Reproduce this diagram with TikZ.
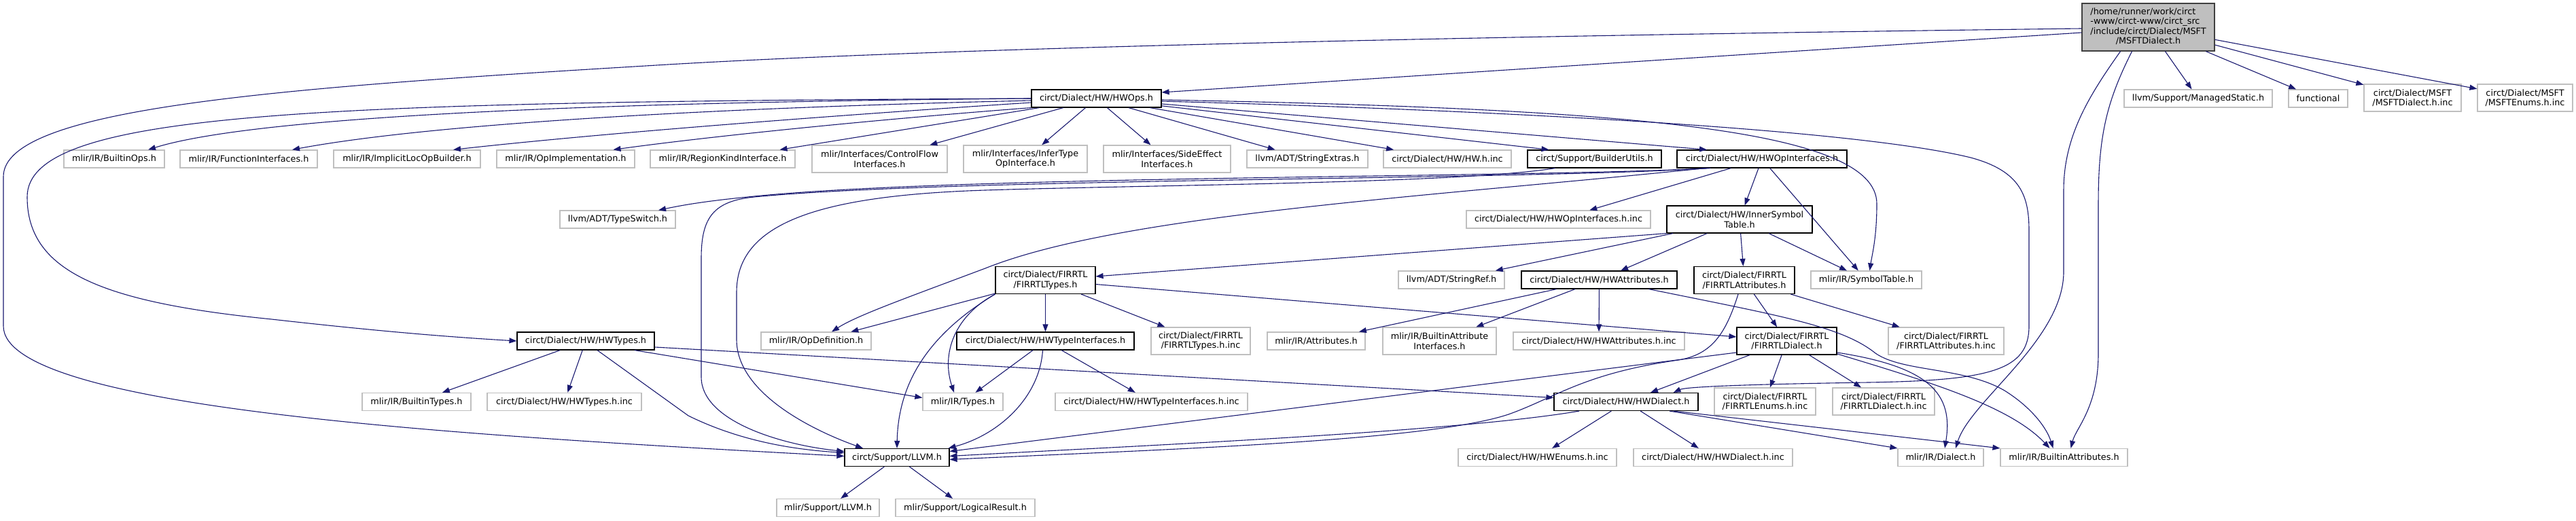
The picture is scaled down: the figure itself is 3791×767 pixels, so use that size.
\documentclass[tikz,border=0pt]{standalone}
\usepackage{fontspec}
\setmainfont{DejaVu Sans}
\usetikzlibrary{arrows.meta}
\definecolor{edgeblue}{RGB}{25,25,112}
\definecolor{leafgray}{RGB}{191,191,191}
\begin{document}
\begin{tikzpicture}[x=1pt,y=-1pt,
  font=\fontsize{12.8}{14.5}\selectfont,
  leaf/.style={draw=leafgray,line width=1.2pt,fill=white,inner sep=0pt,align=center},
  doc/.style={leaf,draw=black},
  root/.style={leaf,draw=black!75,fill=leafgray},
  h1/.style={minimum height=26},
  h2/.style={minimum height=40},
  edge/.style={draw=edgeblue,line width=1.1pt,-{Triangle[length=11pt,width=8pt]}}]
\useasboundingbox (0,0) rectangle (3791,767);
\node[root,minimum width=195,minimum height=70] (main) at (3161.5,40) {\begin{tabular}{@{}l@{}}/home/runner/work/circt\\-www/circt-www/circt\_src\\/include/circt/Dialect/MSFT\\\multicolumn{1}{@{}c@{}}{/MSFTDialect.h}\end{tabular}};
\node[doc,h1,minimum width=191] (hwops) at (1613.5,145) {circt/Dialect/HW/HWOps.h};
\node[leaf,h1,minimum width=218] (managedstatic) at (3235,145) {llvm/Support/ManagedStatic.h};
\node[leaf,h1,minimum width=87] (functional) at (3411.5,145) {functional};
\node[leaf,h2,minimum width=143] (msftdialectinc) at (3550.5,144) {circt/Dialect/MSFT\\/MSFTDialect.h.inc};
\node[leaf,h2,minimum width=140] (msftenumsinc) at (3716,144) {circt/Dialect/MSFT\\/MSFTEnums.h.inc};
\node[leaf,h1,minimum width=148] (builtinops) at (168,234) {mlir/IR/BuiltinOps.h};
\node[leaf,h1,minimum width=202] (funcifaces) at (366,234) {mlir/IR/FunctionInterfaces.h};
\node[leaf,h1,minimum width=216] (implicitloc) at (599,234) {mlir/IR/ImplicitLocOpBuilder.h};
\node[leaf,h1,minimum width=203] (opimpl) at (832.5,234) {mlir/IR/OpImplementation.h};
\node[leaf,h1,minimum width=213] (regionkind) at (1063.5,234) {mlir/IR/RegionKindInterface.h};
\node[leaf,h2,minimum width=199] (controlflow) at (1294.5,234) {mlir/Interfaces/ControlFlow\\Interfaces.h};
\node[leaf,h2,minimum width=182] (infertype) at (1509,234) {mlir/Interfaces/InferType\\OpInterface.h};
\node[leaf,h2,minimum width=187] (sideeffect) at (1717.5,234) {mlir/Interfaces/SideEffect\\Interfaces.h};
\node[leaf,h1,minimum width=178] (stringextras) at (1924,234) {llvm/ADT/StringExtras.h};
\node[leaf,h1,minimum width=188] (hwinc) at (2130,234) {circt/Dialect/HW/HW.h.inc};
\node[doc,h1,minimum width=197] (builderutils) at (2346.5,234) {circt/Support/BuilderUtils.h};
\node[doc,h1,minimum width=250] (hwopifaces) at (2593,234) {circt/Dialect/HW/HWOpInterfaces.h};
\node[leaf,h1,minimum width=170] (typeswitch) at (909,323) {llvm/ADT/TypeSwitch.h};
\node[leaf,h1,minimum width=271] (hwopifacesinc) at (2293.5,323) {circt/Dialect/HW/HWOpInterfaces.h.inc};
\node[doc,h2,minimum width=214] (innersym) at (2560,323) {circt/Dialect/HW/InnerSymbol\\Table.h};
\node[doc,h2,minimum width=147] (firrtltypes) at (1538.5,412.5) {circt/Dialect/FIRRTL\\/FIRRTLTypes.h};
\node[leaf,h1,minimum width=156] (stringref) at (2136,412) {llvm/ADT/StringRef.h};
\node[doc,h1,minimum width=229] (hwattrs) at (2353.5,412) {circt/Dialect/HW/HWAttributes.h};
\node[doc,h2,minimum width=148] (firrtlattrs) at (2567,412.5) {circt/Dialect/FIRRTL\\/FIRRTLAttributes.h};
\node[leaf,h1,minimum width=163] (symboltable) at (2746.5,412) {mlir/IR/SymbolTable.h};
\node[doc,h1,minimum width=202] (hwtypes) at (862,502) {circt/Dialect/HW/HWTypes.h};
\node[leaf,h1,minimum width=162] (opdef) at (1201,502) {mlir/IR/OpDefinition.h};
\node[doc,h1,minimum width=261] (hwtypeifaces) at (1538.5,502) {circt/Dialect/HW/HWTypeInterfaces.h};
\node[leaf,h2,minimum width=146] (firrtltypesinc) at (1767,502) {circt/Dialect/FIRRTL\\/FIRRTLTypes.h.inc};
\node[leaf,h1,minimum width=144] (attributes) at (1937,502) {mlir/IR/Attributes.h};
\node[leaf,h2,minimum width=167] (builtinattrifaces) at (2118.5,502) {mlir/IR/BuiltinAttribute\\Interfaces.h};
\node[leaf,h1,minimum width=252] (hwattrsinc) at (2353,502) {circt/Dialect/HW/HWAttributes.h.inc};
\node[doc,h2,minimum width=147] (firrtldialect) at (2629.5,502) {circt/Dialect/FIRRTL\\/FIRRTLDialect.h};
\node[leaf,h2,minimum width=170] (firrtlattrsinc) at (2864,502) {circt/Dialect/FIRRTL\\/FIRRTLAttributes.h.inc};
\node[leaf,h1,minimum width=160] (builtintypes) at (613,591.5) {mlir/IR/BuiltinTypes.h};
\node[leaf,h1,minimum width=227] (hwtypesinc) at (830.5,591.5) {circt/Dialect/HW/HWTypes.h.inc};
\node[leaf,h1,minimum width=118] (types) at (1417,591.5) {mlir/IR/Types.h};
\node[leaf,h1,minimum width=283] (hwtypeifacesinc) at (1694.5,591.5) {circt/Dialect/HW/HWTypeInterfaces.h.inc};
\node[doc,h1,minimum width=212] (hwdialect) at (2393,591.5) {circt/Dialect/HW/HWDialect.h};
\node[leaf,h2,minimum width=149] (firrtlenumsinc) at (2597.5,591) {circt/Dialect/FIRRTL\\/FIRRTLEnums.h.inc};
\node[leaf,h2,minimum width=150] (firrtldialectinc) at (2772,591) {circt/Dialect/FIRRTL\\/FIRRTLDialect.h.inc};
\node[doc,h1,minimum width=154] (llvm) at (1320,673.5) {circt/Support/LLVM.h};
\node[leaf,h1,minimum width=233] (hwenumsinc) at (2262.5,673.5) {circt/Dialect/HW/HWEnums.h.inc};
\node[leaf,h1,minimum width=234] (hwdialectinc) at (2521,673.5) {circt/Dialect/HW/HWDialect.h.inc};
\node[leaf,h1,minimum width=126] (dialect) at (2856,673.5) {mlir/IR/Dialect.h};
\node[leaf,h1,minimum width=187] (builtinattrs) at (3037.5,673.5) {mlir/IR/BuiltinAttributes.h};
\node[leaf,h1,minimum width=151] (mlirllvm) at (1218.5,747.5) {mlir/Support/LLVM.h};
\node[leaf,h1,minimum width=205] (logicalresult) at (1420.5,747.5) {mlir/Support/LogicalResult.h};
\draw[edge] ([yshift=-2pt]main.west) .. controls (2000,55) and (1300,75) .. (950,97) .. controls (400,130) and (5,160) .. (5,260) -- (5,480) .. controls (5,600) and (650,640) .. ([yshift=2pt]llvm.west);
\draw[edge] ([yshift=-8pt]main.west) -- ([yshift=9pt]hwops.east);
\draw[edge] (main) -- (managedstatic);
\draw[edge] (main) -- (functional);
\draw[edge] (main) -- (msftdialectinc);
\draw[edge] (main) -- (msftenumsinc);
\draw[edge] (main.221) .. controls (3075,140) and (3037,200) .. (3037,280) -- (3037,400) .. controls (3037,500) and (2900,590) .. ([xshift=22pt]dialect.north);
\draw[edge] (main.236) .. controls (3100,150) and (3088,200) .. (3088,300) -- (3088,520) .. controls (3088,600) and (3055,630) .. ([xshift=10pt]builtinattrs.north);
\draw[edge] (hwops.west) .. controls (450,150) and (40,165) .. (40,290) .. controls (40,400) and (150,445) .. (400,470) .. controls (560,488) and (660,496) .. (hwtypes.west);
\draw[edge] (hwops.west) .. controls (900,150) and (380,170) .. ([xshift=50pt]builtinops.north);
\draw[edge] ([yshift=-3pt]hwops.west) .. controls (1000,160) and (620,185) .. ([xshift=64pt]funcifaces.north);
\draw[edge] ([yshift=-6pt]hwops.west) .. controls (1150,175) and (850,200) .. ([xshift=68pt]implicitloc.north);
\draw[edge] (hwops.south west) .. controls (1300,175) and (1050,200) .. ([xshift=70pt]opimpl.north);
\draw[edge] (hwops) -- (regionkind);
\draw[edge] (hwops) -- (controlflow);
\draw[edge] (hwops) -- (infertype);
\draw[edge] (hwops) -- (sideeffect);
\draw[edge] (hwops) -- (stringextras);
\draw[edge] (hwops) -- (hwinc);
\draw[edge] (hwops) -- ([xshift=-67pt]builderutils.north);
\draw[edge] (hwops) -- ([xshift=-81pt]hwopifaces.north);
\draw[edge] ([yshift=-2pt]hwops.east) .. controls (2400,160) and (2762,190) .. (2762,300) .. controls (2762,350) and (2755,375) .. ([xshift=5pt]symboltable.north);
\draw[edge] ([yshift=-4pt]hwops.east) .. controls (2300,165) and (2750,195) .. (2900,232) .. controls (2975,252) and (2986,290) .. (2986,340) -- (2986,480) .. controls (2986,545) and (2930,560) .. (2750,563) .. controls (2550,566) and (2480,570) .. ([xshift=-37pt]hwdialect.north east);
\draw[edge] ([xshift=50pt]hwopifaces.south west) .. controls (2250,262) and (1400,258) .. (1100,290) .. controls (1030,297) and (1000,303) .. ([xshift=60pt]typeswitch.north);
\draw[edge] ([xshift=46pt]hwopifaces.south west) .. controls (2250,265) and (1400,262) .. (1110,290) .. controls (1050,296) and (1032,320) .. (1032,380) -- (1032,555) .. controls (1032,620) and (1150,655) .. ([yshift=9pt]llvm.west);
\draw[edge] ([xshift=-58pt]builderutils.south) .. controls (2150,270) and (1700,272) .. (1450,280) .. controls (1200,288) and (1084,330) .. (1084,430) -- (1084,500) .. controls (1084,580) and (1200,635) .. ([xshift=-50pt]llvm.north);
\draw[edge] ([xshift=42pt]hwopifaces.south west) .. controls (2100,290) and (1650,315) .. (1450,395) .. controls (1330,440) and (1260,465) .. ([xshift=23pt]opdef.north);
\draw[edge] (hwopifaces) -- (hwopifacesinc);
\draw[edge] (hwopifaces) -- (innersym);
\draw[edge] (hwopifaces) -- (symboltable);
\draw[edge] (innersym.south west) -- (firrtltypes);
\draw[edge] (innersym) -- (stringref);
\draw[edge] (innersym) -- (hwattrs);
\draw[edge] (innersym) -- (firrtlattrs);
\draw[edge] (innersym) -- (symboltable);
\draw[edge] (firrtltypes) -- (opdef);
\draw[edge] (firrtltypes) -- (hwtypeifaces);
\draw[edge] (firrtltypes) -- (firrtltypesinc);
\draw[edge] (firrtltypes.south west) .. controls (1405,465) and (1385,520) .. ([xshift=-13pt]types.north);
\draw[edge] (firrtltypes.south west) .. controls (1370,490) and (1322,560) .. (llvm.north);
\draw[edge] (firrtltypes) -- (firrtldialect);
\draw[edge] (hwtypes) -- (builtintypes);
\draw[edge] (hwtypes) -- (hwtypesinc);
\draw[edge] ([xshift=17pt]hwtypes.south) -- (1013,612) .. controls (1090,650) and (1170,662) .. ([yshift=7pt]llvm.west);
\draw[edge] ([xshift=72pt]hwtypes.south) -- ([yshift=6pt]types.west);
\draw[edge] ([yshift=-9pt]hwtypes.east) -- ([yshift=6pt]hwdialect.west);
\draw[edge] (hwtypeifaces) -- (types);
\draw[edge] (hwtypeifaces) -- (hwtypeifacesinc);
\draw[edge] ([xshift=-4pt]hwtypeifaces.south) .. controls (1530,585) and (1470,640) .. ([xshift=-2pt]llvm.north east);
\draw[edge] (hwattrs) -- (attributes);
\draw[edge] (hwattrs) -- (builtinattrifaces);
\draw[edge] (hwattrs) -- (hwattrsinc);
\draw[edge] ([xshift=73pt]hwattrs.south) .. controls (2620,465) and (2710,480) .. (2760,520) .. controls (2800,548) and (2890,540) .. (2950,575) .. controls (2990,600) and (3012,630) .. ([xshift=-16pt]builtinattrs.north);
\draw[edge] ([xshift=-9pt]firrtlattrs.south) .. controls (2540,490) and (2520,522) .. (2470,530) .. controls (2330,550) and (2290,585) .. (2220,610) .. controls (2100,650) and (1700,662) .. ([yshift=-3pt]llvm.east);
\draw[edge] (firrtlattrs) -- (firrtldialect);
\draw[edge] (firrtlattrs) -- (firrtlattrsinc);
\draw[edge] (firrtldialect) -- (hwdialect);
\draw[edge] (firrtldialect) -- (firrtlenumsinc);
\draw[edge] (firrtldialect) -- (firrtldialectinc);
\draw[edge] ([yshift=-17pt]firrtldialect.west) -- ([yshift=9pt]llvm.east);
\draw[edge] ([yshift=-17pt]firrtldialect.east) .. controls (2840,540) and (2875,580) .. ([xshift=6pt]dialect.north);
\draw[edge] ([yshift=-19pt]firrtldialect.east) .. controls (2850,565) and (2960,600) .. ([xshift=-21pt]builtinattrs.north);
\draw[edge] (hwdialect) -- (hwenumsinc);
\draw[edge] (hwdialect) -- (hwdialectinc);
\draw[edge] ([xshift=-69pt]hwdialect.south) .. controls (2150,635) and (1700,655) .. ([yshift=2pt]llvm.east);
\draw[edge] ([xshift=64pt]hwdialect.south) -- (dialect.north west);
\draw[edge] ([xshift=70pt]hwdialect.south) -- (builtinattrs.north west);
\draw[edge] (llvm) -- (mlirllvm);
\draw[edge] (llvm) -- (logicalresult);
\end{tikzpicture}
\end{document}
